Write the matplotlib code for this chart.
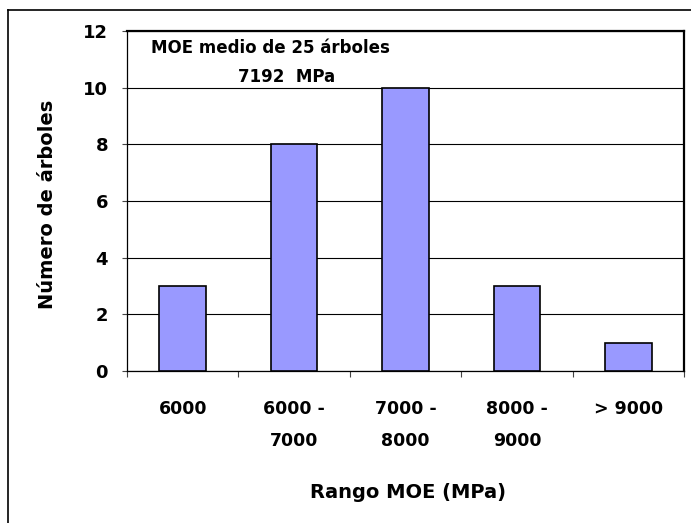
import matplotlib
matplotlib.use("Agg")
import matplotlib.pyplot as plt
from matplotlib.lines import Line2D

# MOE class counts
rangos = ["6000", "6000 -\n7000", "7000 -\n8000", "8000 -\n9000", "> 9000"]
arboles = [3, 8, 10, 3, 1]
yticks = [0, 2, 4, 6, 8, 10, 12]

plt.rcParams['font.family'] = ['DejaVu Sans']
plt.rcParams['font.weight'] = 'bold'

W, H = 691, 523
fig = plt.figure(figsize=(W / 100, H / 100), dpi=100)
ax = fig.add_axes([127 / W, 152 / H, 557 / W, 340 / H])

x = list(range(len(rangos)))
ax.bar(x, arboles, width=0.42, color='#9999ff', edgecolor='black',
       linewidth=1.2, zorder=3)

ax.set_xlim(-0.5, len(rangos) - 0.5)
ax.set_ylim(0, 12)
ax.set_yticks(yticks)
ax.set_yticklabels([str(v) for v in yticks], fontsize=13, fontweight='bold')
ax.yaxis.grid(True, color='black', linewidth=0.8, zorder=0)

# category labels at centres, tick marks at the boundaries
ax.set_xticks(x)
ax.set_xticklabels(rangos, fontsize=12.5, fontweight='bold', linespacing=2.0)
ax.set_xticks([i - 0.5 for i in range(len(rangos) + 1)], minor=True)
ax.tick_params(axis='x', which='major', length=0, pad=21)
ax.tick_params(axis='x', which='minor', direction='out', length=4.5,
               width=0.8, color='#444444')
ax.tick_params(axis='y', direction='out', length=3.6, width=0.8, pad=10,
               color='#444444')

for side in ['left', 'bottom']:
    ax.spines[side].set_linewidth(0.9)
ax.spines['top'].set_linewidth(1.6)
ax.spines['right'].set_linewidth(1.6)

ax.set_ylabel("Número de árboles", fontsize=14, fontweight='bold')
ax.yaxis.label.set_verticalalignment('center')
ax.yaxis.set_label_coords((48 - 127) / 557, 0.49)
ax.set_xlabel("Rango MOE (MPa)", fontsize=14, fontweight='bold')
ax.xaxis.label.set_verticalalignment('center')
ax.xaxis.set_label_coords((408 - 127) / 557, (371 - 492) / 340)

fig.text(270 / W, 1 - 48 / H, "MOE medio de 25 árboles", fontsize=12,
         fontweight='bold', ha='center', va='center')
fig.text(287 / W, 1 - 77 / H, "7192  MPa", fontsize=12,
         fontweight='bold', ha='center', va='center')

# outer frame (top and left edges)
fig.add_artist(Line2D([8 / W, 8 / W], [0, 1 - 9.5 / H], color='black',
                      linewidth=1.2, transform=fig.transFigure))
fig.add_artist(Line2D([8 / W, 1], [1 - 9.5 / H, 1 - 9.5 / H], color='black',
                      linewidth=1.2, transform=fig.transFigure))

fig.savefig("out.png", dpi=100)
